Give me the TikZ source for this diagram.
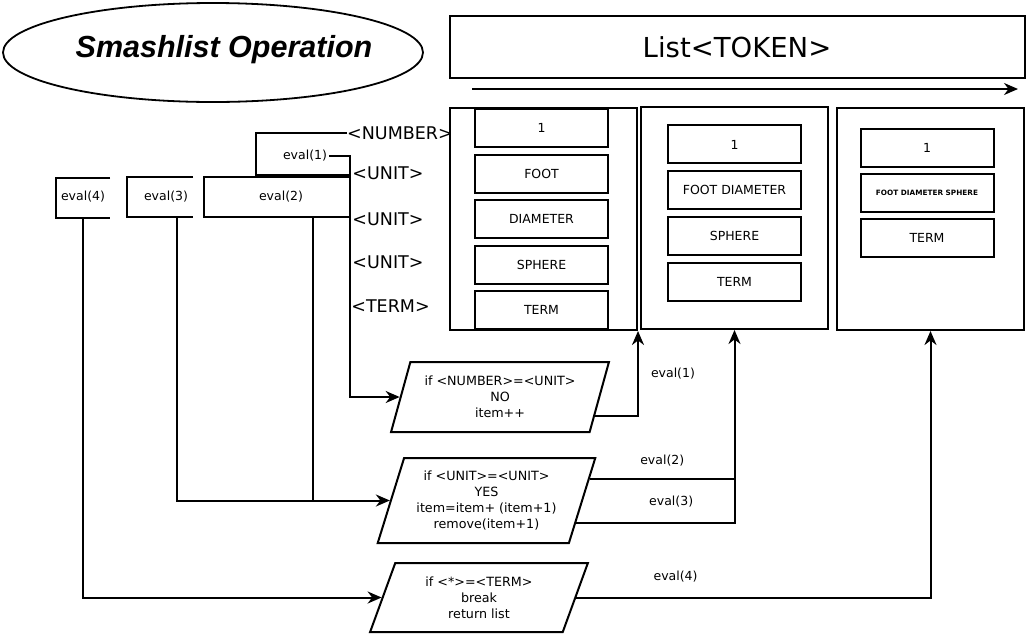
\documentclass[tikz,border=0pt]{standalone}
\usepackage{fontspec}
\setmainfont{DejaVu Sans}
\newfontfamily\titlefont{Liberation Sans}
\usepackage{tikz}
\usetikzlibrary{arrows.meta}
\usetikzlibrary{shapes.geometric}
\usetikzlibrary{matrix}
\newcommand\fs[2]{\fontsize{#1}{#2}\selectfont}
\tikzstyle{link}=[line width=2pt]
\tikzstyle{rw}=[line width=2pt,-{Stealth[length=14pt,width=12pt,inset=4.5pt]}]
\tikzstyle{box}=[draw,line width=2pt,minimum width=187pt,minimum height=222pt,inner sep=0pt]
\tikzstyle{cell}=[draw,line width=2pt,minimum width=133pt,minimum height=38pt,inner sep=0pt,font=\fs{12.5}{15}]
\tikzstyle{tinycell}=[font=\bfseries\fs{7.3}{9}]
\tikzstyle{cond}=[draw,line width=2pt,trapezium,trapezium left angle=70,trapezium right angle=110,trapezium stretches=true,minimum width=218pt,minimum height=70pt,inner sep=2pt,align=center,font=\fs{12.7}{16}]
\tikzstyle{tag}=[inner sep=0pt,font=\fs{17.5}{20}]
\tikzstyle{evaltxt}=[inner sep=2pt,font=\fs{12.5}{15}]

\begin{document}
\begin{tikzpicture}[x=1pt,y=-1pt]
	\useasboundingbox (0,0) rectangle (1026,633);
	\node[draw,ellipse,line width=1.8pt,minimum width=420pt,minimum height=99pt] (title) at (213,52.5) {};
	\node[anchor=base,font=\titlefont\bfseries\itshape\fs{30.5}{34}] (titletxt) at (224,57) {Smashlist Operation};
	\node[draw,line width=2pt,minimum width=575pt,minimum height=62pt,font=\fs{27.5}{30}] (list) at (737,47) {List<TOKEN>};
	\coordinate (flowS) at (472,89);
	\coordinate (flowE) at (1018,89);
	\draw[rw] (flowS) -- (flowE);

	\node[box] (colA) at (543.5,219) {};
	\node[box] (colB) at (734.5,218) {};
	\node[box] (colC) at (930.5,219) {};
	\matrix [matrix of nodes, nodes={cell}, row sep=5.5pt, inner sep=0pt] (ma) at (541.5,219) {
	  1 \\ FOOT \\ DIAMETER \\ SPHERE \\ TERM \\ };
	\matrix [matrix of nodes, nodes={cell}, row sep=5.7pt, inner sep=0pt] (mb) at (734.5,213) {
	  1 \\ FOOT DIAMETER \\ SPHERE \\ TERM \\ };
	\matrix [matrix of nodes, nodes={cell}, row sep=5.2pt, inner sep=0pt] (mc) at (927,192.75) {
	  1 \\ |[tinycell]| FOOT DIAMETER SPHERE \\ TERM \\ };

	\node[tag] (tNum)  at (400,133)   {<NUMBER>};
	\node[tag] (tU1)   at (388,173)   {<UNIT>};
	\node[tag] (tU2)   at (388,219)   {<UNIT>};
	\node[tag] (tU3)   at (388,262)   {<UNIT>};
	\node[tag] (tTerm) at (390.5,306) {<TERM>};

	\node[evaltxt] (e1) at (305,156) {eval(1)};
	\node[evaltxt] (e2) at (281,197) {eval(2)};
	\node[evaltxt] (e3) at (166,197) {eval(3)};
	\node[evaltxt] (e4) at (83,197)  {eval(4)};
	\draw[link] (tNum.west) -| (256,175) -- (350,175);
	\draw[link] (350,177) -| (204,217) -- (350,217);
	\draw[link] (193,177) -| (127,217) -- (193,217);
	\draw[link] (110,178) -| (56,218) -- (110,218);

	\node[cond] (p1) at (500,397) {if <NUMBER>=<UNIT>\\NO\\item++};
	\node[cond,minimum height=85pt] (p2) at (486.5,500.5) {if <UNIT>=<UNIT>\\YES\\item=item+ (item+1)\\remove(item+1)};
	\node[cond,minimum height=69pt] (p3) at (479,597.5) {if <*>=<TERM>\\break\\return list};

	\coordinate (e1tail) at (350,156);
	\coordinate (e2tail) at (313,217);
	\coordinate (e3tail) at (177,217);
	\coordinate (e4tail) at (83,218);
	\draw[rw] (e1.east) -- (e1tail) |- (p1.west);
	\draw[link] (e2tail) -- (e2tail |- p2.west);
	\draw[rw] (e3tail) |- (p2.west);
	\draw[rw] (e4tail) |- (p3.west);

	\draw[rw] (p1.-11) -| node[pos=.75,right=10pt,evaltxt]{eval(1)} (colA.south east);
	\draw[rw] (p2.12) -| node[pos=.25,above=9pt,evaltxt]{eval(2)} (colB.south);
	\draw[link] (p2.-14) -| node[pos=.3,above=13pt,evaltxt]{eval(3)} (p2.12 -| colB.south);
	\draw[rw] (p3.east) -| node[pos=.14,above=12.5pt,evaltxt]{eval(4)} (colC.south);
\end{tikzpicture}
\end{document}
